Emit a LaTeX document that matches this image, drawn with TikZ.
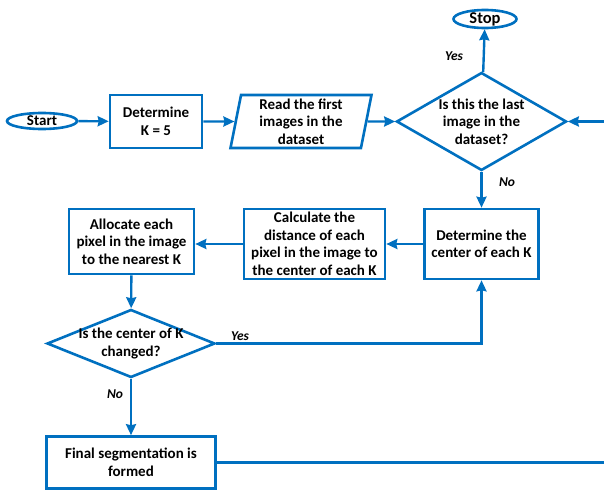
\documentclass[tikz,border=0pt]{standalone}
\usepackage{fontspec}
\setmainfont{Carlito}
\usetikzlibrary{arrows.meta,positioning,shapes.geometric}
\definecolor{flowblue}{RGB}{0,112,192}

\begin{document}
\begin{tikzpicture}[x=1pt,y=-1pt,
    every node/.style={font=\bfseries\fontsize{15}{17.5}\selectfont, align=center, text=black},
    box/.style={draw=flowblue, line width=2.6pt, fill=white, inner sep=0pt},
    term/.style={draw=flowblue, line width=2.6pt, fill=white, ellipse, inner sep=0pt},
    io/.style={box, trapezium, trapezium left angle=77, trapezium right angle=103, trapezium stretches body},
    decision/.style={draw=flowblue, line width=2.6pt, fill=white, diamond, inner sep=0pt},
    ans/.style={font=\bfseries\itshape\fontsize{13.5}{15}\selectfont},
    flow/.style={-{Stealth[length=11pt,width=10pt,inset=1pt]}, draw=flowblue, line width=2.4pt}]
    \useasboundingbox (0,0) rectangle (604,492);
    % Top row
    \node[term, minimum width=70pt, minimum height=16pt, inner ysep=-1pt] (start) at (42,121) {Start};
    \node[box, minimum width=92pt, minimum height=53pt] (detk) at (156,121.5) {Determine\\K = 5};
    \node[io, minimum width=141pt, minimum height=53pt] (read) at (301,121.5) {Read the first\\images in the\\dataset};
    \node[decision, minimum width=170pt, minimum height=98pt,
          label={center:{Is this the last\\image in the\\dataset?}}] (last) at (481.5,121.5) {};
    \node[term, minimum width=63pt, minimum height=18pt, inner ysep=-1.5pt,
          font=\bfseries\fontsize{16.5}{18}\selectfont] (stop) at (485,19) {Stop};
    % Middle row
    \node[box, minimum width=114pt, minimum height=70pt] (center) at (481.5,244) {Determine the\\center of each K};
    \node[box, minimum width=141pt, minimum height=70pt] (dist) at (314.5,244) {Calculate the\\distance of each\\pixel in the image to\\the center of each K};
    \node[box, minimum width=125pt, minimum height=65pt] (alloc) at (131.5,241.5) {Allocate each\\pixel in the image\\to the nearest K};
    % Bottom part
    \node[decision, minimum width=168pt, minimum height=68pt,
          label={center:{Is the center of K\\changed?}}] (changed) at (131,343.5) {};
    \node[box, minimum width=169pt, minimum height=52pt] (final) at (131,462.5) {Final segmentation is\\formed};
    \coordinate (loop) at (630,462.5);
    % Connectors
    \draw[flow] (start) -- (detk);
    \draw[flow] (detk) -- (read);
    \draw[flow] (read) -- (last);
    \draw[flow] (last) -- (stop);
    \draw[flow] (last) -- (center);
    \draw[flow] (center) -- (dist);
    \draw[flow] (dist.west) -- (dist.west -| alloc.east);
    \draw[flow] (alloc) -- (changed);
    \draw[flow] (changed) -- (final);
    \draw[flow] (changed.east) -| (center.south);
    \draw[flow] (final.east) -- (loop) |- (last.east);
    % Answers
    \node[ans] (yes1) at (454,56) {Yes};
    \node[ans] (no1) at (507,182) {No};
    \node[ans] (yes2) at (240,336) {Yes};
    \node[ans] (no2) at (115,394) {No};
\end{tikzpicture}
\end{document}
